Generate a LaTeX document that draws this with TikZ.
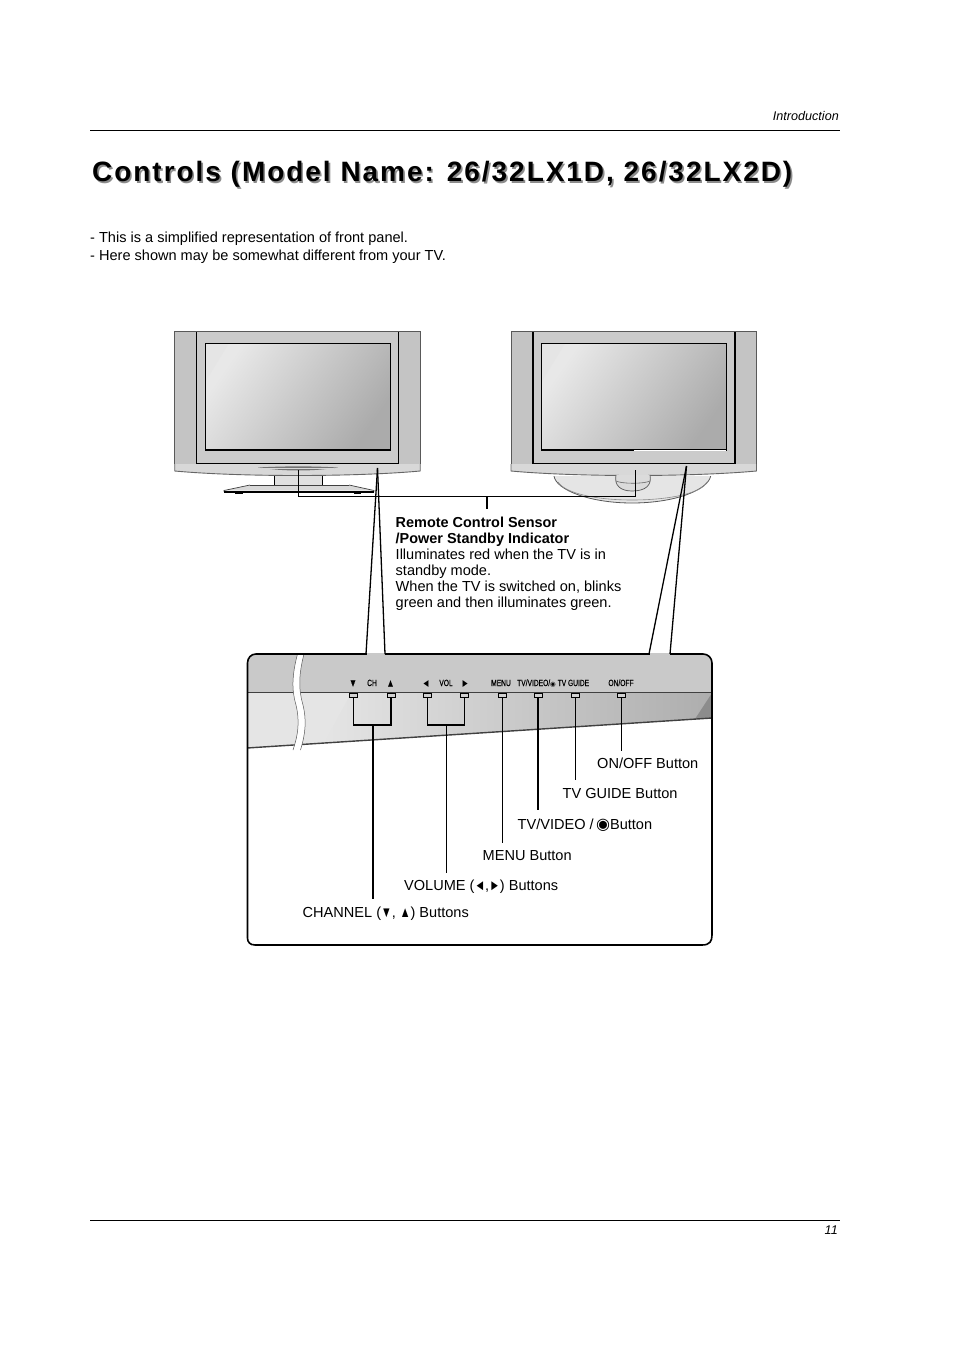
\documentclass[tikz,border=0pt]{standalone}
\usepackage{fontspec}
\setmainfont{Liberation Sans}
\newfontfamily\narrowf[FakeStretch=0.74,FakeBold=0.3]{Liberation Sans}
\newfontfamily\titlef[LetterSpace=7]{Liberation Sans Bold}
\newfontfamily\dejav{DejaVu Sans}
\newfontfamily\trif[FakeStretch=0.72]{Liberation Sans}
\newcommand{\tri}[1]{{\fontsize{15}{16}\selectfont\trif #1}}
\newcommand{\fisheye}{{\fontsize{16}{16}\selectfont\dejav ◉}}
\usetikzlibrary{calc}
\definecolor{bodygray}{HTML}{CBCBCB}
\definecolor{spkgray}{HTML}{C4C4C4}
\definecolor{stripgray}{HTML}{D8D8D8}
\def\panelpath{(256,654) -- (703,654) .. controls (708,654) and (712,658) .. (712,663) -- (712,935) .. controls (712,941) and (710,945) .. (702,945) -- (255,945) .. controls (250,945) and (247.5,942) .. (247.5,938) -- (247.5,663) .. controls (247.5,658) and (251,654) .. (256,654) -- cycle}
\tikzset{
  x=1pt,y=-1pt,
  txt/.style={anchor=base west,inner sep=0pt,font=\fontsize{14.55}{16}\selectfont},
  smalltxt/.style={anchor=base east,inner sep=0pt,font=\fontsize{12.6}{14}\selectfont\itshape},
  paneltxt/.style={anchor=base,inner sep=0pt,font=\fontsize{9}{9}\selectfont\narrowf},
  thinline/.style={line width=0.9pt,black},
  thickline/.style={line width=1.7pt,black},
  edge/.style={line width=1.1pt,black},
  outerline/.style={line width=0.8pt,black!65},
  btn/.style={draw=black,line width=0.8pt,fill=black!18,minimum width=8pt,minimum height=4.5pt,inner sep=0pt,rectangle},
}
\newcommand{\tvbody}[1]{%
  \begin{scope}[shift={(#1,0)}]
    \fill[white] (0,331) rectangle (245.5,476);
    \fill[bodygray] (0,331) rectangle (245.5,464);
    \fill[spkgray] (0,331) rectangle (22,464);
    \fill[spkgray] (224,331) rectangle (245.5,464);
    \shade[left color=white!91!black,right color=black!33,shading angle=55] (30.5,343.5) rectangle (215.5,450);
    \fill[black!10] (30.5,343.5) -- (54,343.5) -- (30.5,382) -- cycle;
    \draw[edge] (30.5,343.5) rectangle (215.5,450);
    \draw[edge] (22,331.7) -- (22,464) -- (224,464) -- (224,331.7);
    \draw[outerline] (0,464) -- (0,331) -- (245.5,331) -- (245.5,464);
    \fill[stripgray] (0,464) -- (245.5,464) -- (245.5,471) .. controls (180,477) and (65,477) .. (0,471) -- cycle;
    \draw[line width=0.9pt,black!60] (245.5,464) -- (245.5,471) .. controls (180,477) and (65,477) .. (0,471) -- (0,464);
  \end{scope}}
\begin{document}
\begin{tikzpicture}
\useasboundingbox (0,0) rectangle (954,1351);
\fill[white] (0,0) rectangle (954,1351);

% page furniture
\coordinate (hl) at (90,130.5); \coordinate (hr) at (840,130.5);
\coordinate (fl) at (90,1220); \coordinate (fr) at (840,1220);
\draw[line width=0.9pt] (hl) -- (hr);
\draw[line width=0.9pt] (fl) -- (fr);
\node[smalltxt] (sect) at (839,120.5) {Introduction};
\node[smalltxt] (pageno) at (838,1234.5) {11};
\node[anchor=base west,inner sep=0pt,text=black!45,font=\fontsize{28}{30}\selectfont\titlef] (titleshadow) at (93.6,183.6) {Controls (Model Name: 26/32LX1D, 26/32LX2D)};
\node[anchor=base west,inner sep=0pt,font=\fontsize{28}{30}\selectfont\titlef] (title) at (92,182) {Controls (Model Name: 26/32LX1D, 26/32LX2D)};
\node[txt] (note1) at (90,242) {- This is a simplified representation of front panel.};
\node[txt] (note2) at (90,260) {- Here shown may be somewhat different from your TV.};

% left TV stand (behind the body)
\fill[black!12] (274.5,474) rectangle (322.7,485);
\draw[edge] (274.5,474) -- (274.5,485);
\draw[edge] (322.7,474) -- (322.7,485);
\fill[black!15] (250,485) -- (349,485) -- (374,490.5) -- (224,490.5) -- cycle;
\draw[line width=0.7pt,black!75] (250,485) -- (224,490.5) -- (224,491.5);
\draw[line width=0.7pt,black!75] (349,485) -- (374,490.5) -- (374,491.5);
\draw[line width=0.7pt,black!75] (250,485) -- (349,485);
\draw[line width=1.4pt] (224,492) -- (374,492);
\fill[black] (235,492) rectangle (243,494);
\fill[black] (354,492) rectangle (361,494);

\tvbody{174.7}
\fill[black!55] (258,467.5) .. controls (285,466) and (312,466) .. (338,467.5) .. controls (312,471.5) and (285,471.5) .. (258,467.5) -- cycle;
\fill[black!15] (262,468) -- (334,468) -- (334,469) -- (262,469) -- cycle;

% right TV stand
\fill[black!10] (554,476) .. controls (556,490) and (590,503) .. (632,503) .. controls (675,503) and (708,490) .. (710.7,476) -- cycle;
\draw[line width=0.8pt,black!65] (554,476) .. controls (556,490) and (590,503) .. (632,503) .. controls (675,503) and (708,490) .. (710.7,476);
\draw[line width=0.6pt,black!45] (558,482) .. controls (565,493) and (595,500) .. (632,500) .. controls (670,500) and (702,493) .. (707,482);
\tvbody{511}
\fill[black!14] (616,475) -- (650,475) .. controls (652,485) and (646,491) .. (632,491) .. controls (620,491) and (614,485) .. (616,475) -- cycle;
\draw[line width=0.7pt,black!65] (616,475) .. controls (614,485) and (620,491) .. (632,491) .. controls (646,491) and (652,485) .. (650,475);
\draw[line width=0.6pt,black!60] (616,481) .. controls (622,484) and (644,484) .. (650,481);
\fill[white] (634,449.6) rectangle (726,451);

% sensor pointers from both TVs
\coordinate (stripL) at (298,470);
\coordinate (stripR) at (635.7,470);
\coordinate (elbowL) at (298,496.7);
\coordinate (elbowR) at (635.7,496.7);
\coordinate (stemT) at (487,496.7);
\coordinate (stemB) at (487,509);
\draw[thinline] (stripL) -- (elbowL) -- (elbowR) -- (stripR);
\draw[line width=1.2pt] (stemT) -- (stemB);

% control panel
\fill[white] \panelpath;
\begin{scope}
  \clip \panelpath;
  \fill[black!21] (247,654) rectangle (712,692);
  \shade[left color=black!6,right color=black!32] (247,693) -- (712,693) -- (712,718) -- (247,748) -- cycle;
  \fill[black!10] (247,693) -- (351,693) -- (324,743) -- (247,748) -- cycle;
  \fill[black!45] (712,693) -- (712,718) -- (695,719) -- cycle;
  \draw[line width=1.3pt,black!75] (247,692.5) -- (712,692.5);
  \draw[line width=1.4pt,black!75] (247,748) -- (712,718);
\end{scope}
\fill[white] (297.5,654) .. controls (292,675) and (291.5,690) .. (296,705) .. controls (300,722) and (298,735) .. (293,750) -- (300.5,750) .. controls (305,735) and (307,722) .. (303,705) .. controls (298.5,690) and (298.5,675) .. (304,654) -- cycle;
\draw[line width=0.5pt,black!65] (293,750) .. controls (298,735) and (300,722) .. (296,705) .. controls (291.5,690) and (292,675) .. (297.5,654);
\draw[line width=0.5pt,black!65] (300.5,750) .. controls (305,735) and (307,722) .. (303,705) .. controls (298.5,690) and (298.5,675) .. (304,654);
\draw[line width=1.6pt] \panelpath;

% openings in the panel top, with the pointers to the sensors
\fill[black!21] (366.5,653) rectangle (384.5,656);
\fill[black!21] (649.5,653) rectangle (669.5,656);
\coordinate (sensorL) at (377.5,468);
\coordinate (panelL1) at (366,654);
\coordinate (panelL2) at (385,654);
\coordinate (sensorR) at (686.5,466);
\coordinate (panelR1) at (649,654);
\coordinate (panelR2) at (670,654);
\draw[line width=1.3pt] (sensorL) -- (panelL1);
\draw[line width=1.3pt] (sensorL) -- (panelL2);
\draw[line width=1.3pt] (sensorR) -- (panelR1);
\draw[line width=1.3pt] (sensorR) -- (panelR2);

% sensor description
\node[txt,font=\fontsize{14.45}{16}\selectfont\bfseries] (rc1) at (395.5,527) {Remote Control Sensor};
\node[txt,font=\fontsize{14.45}{16}\selectfont\bfseries] (rc2) at (395.5,543) {/Power Standby Indicator};
\node[txt] (rc3) at (395.5,559) {Illuminates red when the TV is in};
\node[txt] (rc4) at (395.5,575) {standby mode.};
\node[txt] (rc5) at (395.5,591) {When the TV is switched on, blinks};
\node[txt] (rc6) at (395.5,607) {green and then illuminates green.};

% panel legends
\node[paneltxt,font=\fontsize{10.5}{9}\selectfont\narrowf] (lchd) at (353,686.5) {▼};
\node[paneltxt] (lch) at (372,686) {CH};
\node[paneltxt,font=\fontsize{10.5}{9}\selectfont\narrowf] (lchu) at (390.5,686.5) {▲};
\node[paneltxt,font=\fontsize{10.5}{9}\selectfont\narrowf] (lvd) at (426,686.5) {◄};
\node[paneltxt] (lvol) at (446,686) {VOL};
\node[paneltxt,font=\fontsize{10.5}{9}\selectfont\narrowf] (lvu) at (465,686.5) {►};
\node[paneltxt] (lmenu) at (501,686) {MENU};
\node[paneltxt,anchor=base west] (ltv) at (517,686) {TV/VIDEO/{\dejav\fontsize{6.5}{7}\selectfont ◉} TV GUIDE};
\node[paneltxt] (lon) at (621,686) {ON/OFF};

% buttons
\node[btn] (b1) at (353.3,695.5) {};
\node[btn] (b2) at (391,695.5) {};
\node[btn] (b3) at (427.5,695.5) {};
\node[btn] (b4) at (464.7,695.5) {};
\node[btn] (b5) at (502,695.5) {};
\node[btn] (b6) at (538.3,695.5) {};
\node[btn] (b7) at (575,695.5) {};
\node[btn] (b8) at (621.3,695.5) {};

% button labels
\node[txt] (tch) at (302.5,917) {CHANNEL (\tri{▼}, \tri{▲}) Buttons};
\node[txt] (tvol) at (404,890) {VOLUME (\tri{◄},\tri{►}) Buttons};
\node[txt] (tmenu) at (482.5,860) {MENU Button};
\node[txt] (ttv) at (517.5,829) {TV/VIDEO /\,\fisheye Button};
\node[txt] (tguide) at (562.5,798) {TV GUIDE Button};
\node[txt] (tonoff) at (597,768) {ON/OFF Button};

% button connectors
\coordinate (chj) at (373,725);
\coordinate (chend) at (373,898.7);
\coordinate (volj) at (446.3,725);
\coordinate (volend) at (446.3,872.7);
\draw[line width=1.5pt] (b1.south) -- (b1.south |- chj) -- (chj -| b2.south) -- (b2.south);
\draw[line width=1.7pt] (chj) -- (chend);
\draw[line width=1.5pt] (b3.south) -- (b3.south |- volj) -- (volj -| b4.south) -- (b4.south);
\draw[thinline] (volj) -- (volend);
\coordinate (menuend) at (501.7,843);
\coordinate (tvend) at (538,810);
\coordinate (guideend) at (574.8,780);
\coordinate (onend) at (621.3,751);
\draw[thinline] (b5.south) -- (b5.south |- menuend);
\draw[thickline] (b6.south) -- (b6.south |- tvend);
\draw[thinline] (b7.south) -- (b7.south |- guideend);
\draw[thinline] (b8.south) -- (b8.south |- onend);
\end{tikzpicture}
\end{document}
